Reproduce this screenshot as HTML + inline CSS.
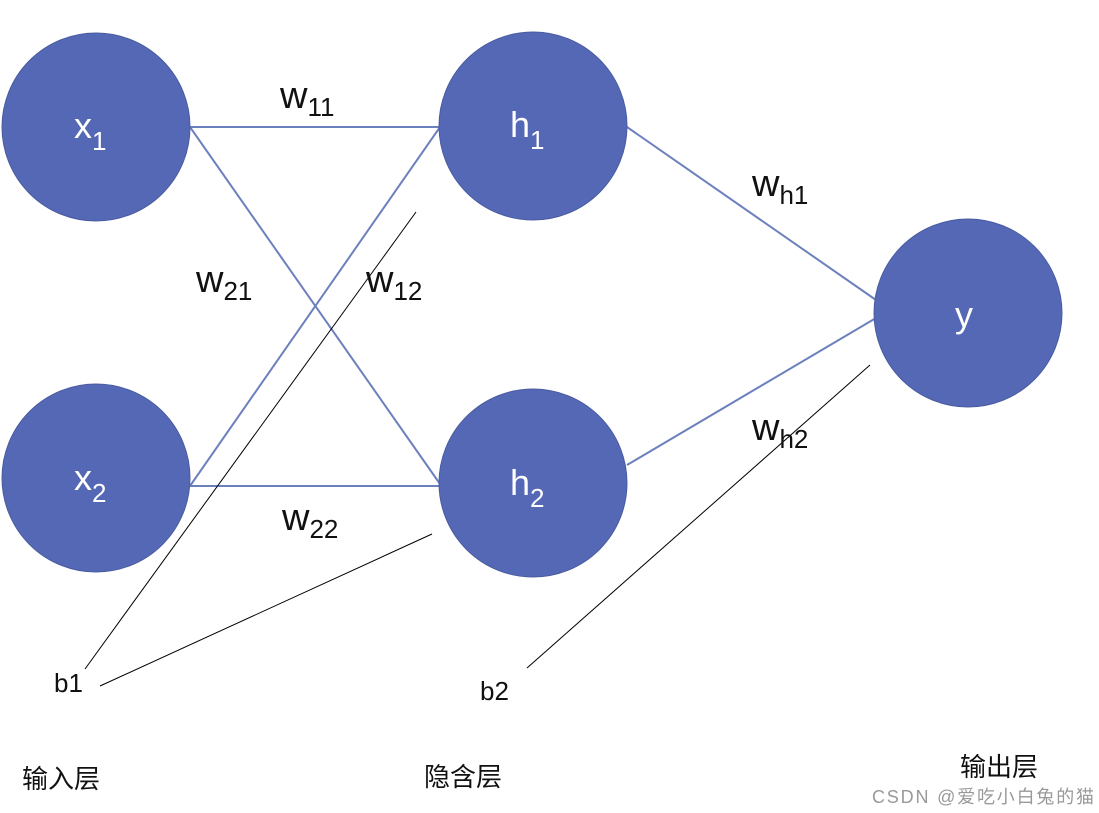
<!DOCTYPE html>
<html><head><meta charset="utf-8"><style>
body{margin:0;background:#fff;}
svg{display:block}
text{font-family:"Liberation Sans","Noto Sans CJK SC",sans-serif;}
</style></head><body>
<svg width="1099" height="813" viewBox="0 0 1099 813">
<g stroke="#6c80bd" stroke-width="2" fill="none">
<line x1="190" y1="127" x2="440" y2="127"/>
<line x1="190" y1="127" x2="440" y2="484"/>
<line x1="190" y1="486" x2="440" y2="127"/>
<line x1="190" y1="486" x2="440" y2="486"/>
<line x1="627" y1="127" x2="876" y2="300"/>
<line x1="627" y1="465" x2="876" y2="318"/>
</g>
<g stroke="#000" stroke-width="1">
<line x1="85" y1="669" x2="416" y2="212"/>
<line x1="100" y1="686" x2="432" y2="534"/>
<line x1="527" y1="668" x2="870" y2="365"/>
</g>
<g fill="#5568b5" stroke="#4a5ca0" stroke-width="1">
<circle cx="96" cy="127" r="94"/>
<circle cx="96" cy="478" r="94"/>
<circle cx="533" cy="126" r="94"/>
<circle cx="533" cy="483" r="94"/>
<circle cx="968" cy="313" r="94"/>
</g>
<g fill="#fff" font-size="36">
<text x="74" y="138">x<tspan font-size="26" dy="12">1</tspan></text>
<text x="74" y="490">x<tspan font-size="26" dy="12">2</tspan></text>
<text x="510" y="137">h<tspan font-size="26" dy="12">1</tspan></text>
<text x="510" y="495">h<tspan font-size="26" dy="12">2</tspan></text>
<text x="955" y="327">y</text>
</g>
<g fill="#111" font-size="38">
<text x="280" y="108">w<tspan font-size="26" dy="8">11</tspan></text>
<text x="196" y="292">w<tspan font-size="26" dy="8">21</tspan></text>
<text x="366" y="292">w<tspan font-size="26" dy="8">12</tspan></text>
<text x="282" y="530">w<tspan font-size="26" dy="8">22</tspan></text>
<text x="752" y="196">w<tspan font-size="26" dy="8">h1</tspan></text>
<text x="752" y="440">w<tspan font-size="26" dy="8">h2</tspan></text>
</g>
<g fill="#111" font-size="26">
<text x="54" y="692">b1</text>
<text x="480" y="700">b2</text>
<text x="22" y="788">输入层</text>
<text x="424" y="786">隐含层</text>
<text x="960" y="776">输出层</text>
</g>
<text x="872" y="803" font-size="18" fill="#999" textLength="222">CSDN @爱吃小白兔的猫</text>
</svg>
</body></html>
